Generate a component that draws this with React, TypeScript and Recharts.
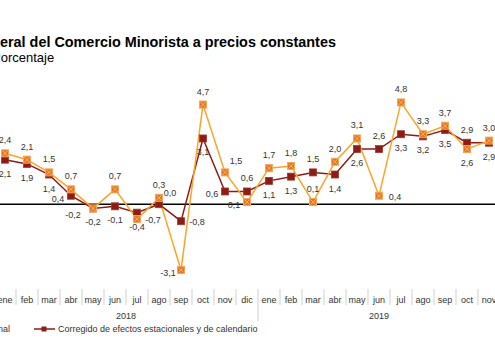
import React from "react";
import { LineChart, Line, XAxis, YAxis, ReferenceLine, LabelList } from "recharts";

const months = [
  "ene", "feb", "mar", "abr", "may", "jun", "jul", "ago", "sep", "oct", "nov", "dic",
  "ene", "feb", "mar", "abr", "may", "jun", "jul", "ago", "sep", "oct", "nov",
];
const years = ["2018", "2019"];

const original = [
  2.4, 2.1, 1.5, 0.7, -0.2, 0.7, -0.7, 0.3, -3.1, 4.7, 1.5, 0.1,
  1.7, 1.8, 0.1, 2.0, 3.1, 0.4, 4.8, 3.3, 3.7, 2.6, 3.0,
];
const corregido = [
  2.1, 1.9, 1.4, 0.4, -0.2, -0.1, -0.4, 0.0, -0.8, 3.1, 0.6, 0.6,
  1.1, 1.3, 1.5, 1.4, 2.6, 2.6, 3.3, 3.2, 3.5, 2.9, 2.9,
];

// where each value label sits relative to its point
const originalLabelPos = [
  "top", "top", "top", "top", "bottomleft", "top", "right", "top", "left", "top", "topright", "left",
  "top", "top", "top", "top", "top", "right", "top", "top", "top", "bottom", "top",
];
const corregidoLabelPos = [
  "bottom", "bottom", "bottom", "left", "bottom", "bottom", "bottom", "topright", "right", "bottom", "left", "top",
  "bottom", "bottom", "top", "bottom", "bottom", "top", "bottom", "bottom", "bottom", "top", "bottom",
];

const data = months.map((m, i) => ({
  key: `${m}-${i}`,
  month: m,
  original: original[i],
  corregido: corregido[i],
}));

const ORANGE_LINE = "#FDA428";
const RED = "#8E1B14";
const FONT = "'Liberation Sans', Arial, sans-serif";

const offsets: Record<string, [number, number]> = {
  top: [0, -13],
  bottom: [0, 14],
  left: [-13, 3],
  right: [16, 1],
  topright: [11, -11],
  bottomleft: [-20, 7],
};

const fmt = (v: number) => v.toFixed(1).replace(".", ",");

const makeLabel = (pos: string[]) => (props: any) => {
  const { x, y, value, index } = props;
  const [dx, dy] = offsets[pos[index]] || [0, -13];
  return (
    <text
      x={x + dx}
      y={y + dy + 3}
      textAnchor="middle"
      fontSize={9}
      fontFamily={FONT}
      fill="#333"
    >
      {fmt(value)}
    </text>
  );
};

const OrangeDot = (props: any) => {
  const { cx, cy, index } = props;
  if (cx == null || cy == null) return <g key={`od-${index}`} />;
  const s = 3.5;
  return (
    <g key={`od-${index}`}>
      <rect x={cx - s} y={cy - s} width={s * 2} height={s * 2} fill="#E8751C" stroke="#F6A55A" strokeWidth={1} />
      <line x1={cx - s + 1} y1={cy - s + 1} x2={cx + s - 1} y2={cy + s - 1} stroke="#F8BE84" strokeWidth={0.8} />
      <line x1={cx + s - 1} y1={cy - s + 1} x2={cx - s + 1} y2={cy + s - 1} stroke="#F8BE84" strokeWidth={0.8} />
    </g>
  );
};

const RedDot = (props: any) => {
  const { cx, cy, index } = props;
  if (cx == null || cy == null) return <g key={`rd-${index}`} />;
  const s = 3.5;
  return (
    <rect key={`rd-${index}`} x={cx - s} y={cy - s} width={s * 2} height={s * 2} fill={RED} stroke="#A0372E" strokeWidth={0.8} />
  );
};

const MonthTick = (props: any) => {
  const { x, y, payload } = props;
  const i = payload.index;
  const isYearEnd = i === 11;
  return (
    <g>
      <text x={x} y={y + 14} textAnchor="middle" fontSize={9} fontFamily={FONT} fill="#333">
        {payload.value}
      </text>
      <line x1={x + 11} y1={y} x2={x + 11} y2={isYearEnd ? y + 32 : y + 16} stroke="#cfcfcf" strokeWidth={1} />
      {i === 5 && (
        <text x={x + 11} y={y + 30} textAnchor="middle" fontSize={9} fontFamily={FONT} fill="#333">
          {years[0]}
        </text>
      )}
      {i === 17 && (
        <text x={x} y={y + 30} textAnchor="middle" fontSize={9} fontFamily={FONT} fill="#333">
          {years[1]}
        </text>
      )}
    </g>
  );
};

export default function App() {
  return (
    <div
      style={{
        position: "fixed",
        left: 0,
        top: 0,
        width: 495,
        height: 356,
        overflow: "hidden",
        background: "#fff",
        fontFamily: FONT,
        color: "#000",
      }}
    >
      <div style={{ position: "absolute", left: 0, top: 34, fontSize: 14.4, fontWeight: "bold", whiteSpace: "nowrap", lineHeight: "16px" }}>
        <span style={{ position: "absolute", right: "100%" }}>Índice Gen</span>
        eral del Comercio Minorista a precios constantes
      </div>
      <div style={{ position: "absolute", left: -8, top: 50, fontSize: 13, whiteSpace: "nowrap", lineHeight: "15px" }}>
        Porcentaje
      </div>

      <div style={{ position: "absolute", left: -60, top: 0 }}>
        <LineChart width={570} height={356} data={data} margin={{ top: 77, right: 10, bottom: 7, left: 54 }}>
          <XAxis
            dataKey="key"
            tick={(p: any) => <MonthTick {...p} payload={{ ...p.payload, value: months[p.payload.index] }} />}
            interval={0}
            axisLine={false}
            tickLine={false}
            tickSize={0}
            tickMargin={0}
            height={60}
            padding={{ left: 11, right: 11 }}
          />
          <YAxis hide domain={[-4, 6]} />
          <ReferenceLine y={0} stroke="#000" strokeWidth={1.5} />
          <Line
            dataKey="corregido"
            stroke={RED}
            strokeWidth={1.5}
            dot={RedDot}
            isAnimationActive={false}
          >
            <LabelList dataKey="corregido" content={makeLabel(corregidoLabelPos)} />
          </Line>
          <Line
            dataKey="original"
            stroke={ORANGE_LINE}
            strokeWidth={1.5}
            dot={OrangeDot}
            isAnimationActive={false}
          >
            <LabelList dataKey="original" content={makeLabel(originalLabelPos)} />
          </Line>
        </LineChart>
      </div>

      <svg width={495} height={30} style={{ position: "absolute", left: 0, top: 315 }}>
        <line x1={-40} y1={14} x2={-19} y2={14} stroke={ORANGE_LINE} strokeWidth={1.5} />
        <text x={10} y={17} textAnchor="end" fontSize={9} fontFamily={FONT} fill="#333">
          Original
        </text>
        <line x1={34} y1={14} x2={55} y2={14} stroke={RED} strokeWidth={1.5} />
        <rect x={41.5} y={11.5} width={5} height={5} fill={RED} />
        <text x={58} y={17} fontSize={9} fontFamily={FONT} fill="#333">
          Corregido de efectos estacionales y de calendario
        </text>
      </svg>
    </div>
  );
}
